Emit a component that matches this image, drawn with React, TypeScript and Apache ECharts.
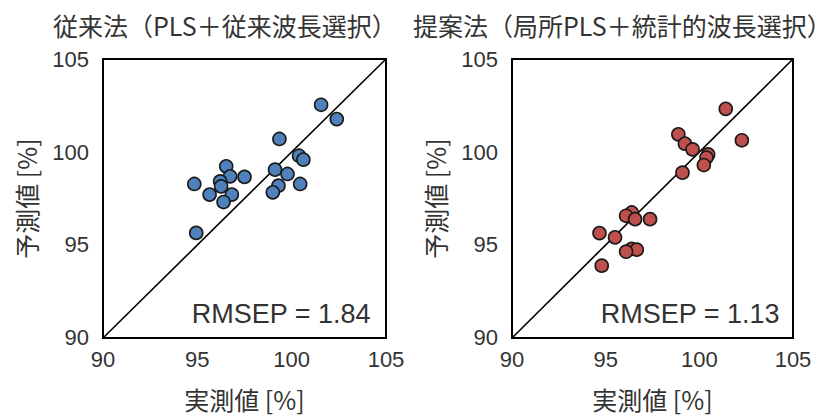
import React, { useEffect, useRef } from "react";
import * as echarts from "echarts";

const titles = ["従来法（PLS＋従来波長選択）", "提案法（局所PLS＋統計的波長選択）"];
const xAxisName = "実測値 [%]";
const yAxisName = "予測値 [%]";
const axisMin = 90;
const axisMax = 105;
const axisStep = 5;

const leftActual = [101.56, 102.39, 99.35, 100.39, 100.62, 99.12, 99.78, 100.45, 99.3, 99.0, 96.53, 96.74, 97.5, 94.84, 96.21, 96.26, 95.65, 96.83, 96.39, 94.94];
const leftPredicted = [102.54, 101.77, 100.7, 99.8, 99.59, 99.05, 98.82, 98.28, 98.19, 97.83, 99.23, 98.69, 98.66, 98.28, 98.42, 98.15, 97.71, 97.71, 97.31, 95.65];

const rightActual = [101.41, 102.27, 98.88, 99.23, 99.64, 100.47, 100.38, 100.24, 99.1, 96.39, 96.09, 96.57, 97.37, 94.67, 95.5, 96.39, 96.66, 96.09, 94.79];
const rightPredicted = [102.32, 100.63, 100.95, 100.45, 100.14, 99.87, 99.7, 99.3, 98.89, 96.75, 96.57, 96.39, 96.39, 95.64, 95.41, 94.79, 94.75, 94.64, 93.89];

const rmsepLabels = ["RMSEP = 1.84", "RMSEP = 1.13"];

export default function App() {
  const ref = useRef<HTMLDivElement>(null);
  useEffect(() => {
    if (!ref.current) return;
    const chart = echarts.init(ref.current, null, { renderer: "svg" });
    const grids = [
      { left: 103, top: 59, width: 283, height: 279 },
      { left: 512, top: 59, width: 281, height: 280 },
    ];
    const pairs = (xs: number[], ys: number[]) => xs.map((x, i) => [x, ys[i]]);
    const sets = [
      { data: pairs(leftActual, leftPredicted), color: "#4F81BD" },
      { data: pairs(rightActual, rightPredicted), color: "#C0504D" },
    ];
    const labelStyle = { color: "#333", fontFamily: "Liberation Sans, Arial, sans-serif", fontSize: 22 };
    const nameStyle = { color: "#333", fontFamily: "Noto Sans CJK JP", fontSize: 25 };
    const axisCommon = {
      type: "value",
      min: axisMin,
      max: axisMax,
      interval: axisStep,
      splitLine: { show: false },
      axisTick: { show: false },
      axisLine: { show: true, lineStyle: { color: "#000", width: 2 } },
    };
    const option: any = {
      animation: false,
      backgroundColor: "#fff",
      title: titles.map((t, i) => ({
        text: t,
        left: i === 0 ? 48 : 408,
        top: 7,
        textStyle: { color: "#333", fontFamily: "Noto Sans CJK JP", fontSize: 25, fontWeight: "normal" },
      })),
      grid: grids.map((g) => ({ ...g, show: true, borderColor: "#000", borderWidth: 2, backgroundColor: "#fff" })),
      xAxis: grids.map((_, i) => ({
        ...axisCommon,
        gridIndex: i,
        name: xAxisName,
        nameLocation: "middle",
        nameGap: 48,
        nameTextStyle: nameStyle,
        axisLabel: { ...labelStyle, margin: 11 },
      })),
      yAxis: grids.map((_, i) => ({
        ...axisCommon,
        gridIndex: i,
        name: yAxisName,
        nameLocation: "middle",
        nameGap: 65,
        nameTextStyle: nameStyle,
        axisLabel: { ...labelStyle, margin: 14 },
      })),
      series: [
        ...sets.map((_, i) => ({
          type: "line",
          xAxisIndex: i,
          yAxisIndex: i,
          data: [
            [axisMin, axisMin],
            [axisMax, axisMax],
          ],
          symbol: "none",
          lineStyle: { color: "#000", width: 1.6 },
          z: 1,
          silent: true,
        })),
        ...sets.map((s, i) => ({
          type: "scatter",
          xAxisIndex: i,
          yAxisIndex: i,
          data: s.data,
          symbol: "circle",
          symbolSize: 13,
          itemStyle: { color: s.color, borderColor: "#1a1a1a", borderWidth: 1.6, opacity: 1 },
          z: 3,
        })),
      ],
      graphic: rmsepLabels.map((t, i) => ({
        type: "text",
        right: i === 0 ? 834 - 371 : 834 - 780,
        top: 300,
        z: 10,
        style: { text: t, fill: "#333", font: "27px 'Liberation Sans', Arial, sans-serif" },
      })),
    };
    chart.setOption(option);
    return () => chart.dispose();
  }, []);
  return <div ref={ref} style={{ position: "fixed", left: 0, top: 0, width: 834, height: 416 }} />;
}
